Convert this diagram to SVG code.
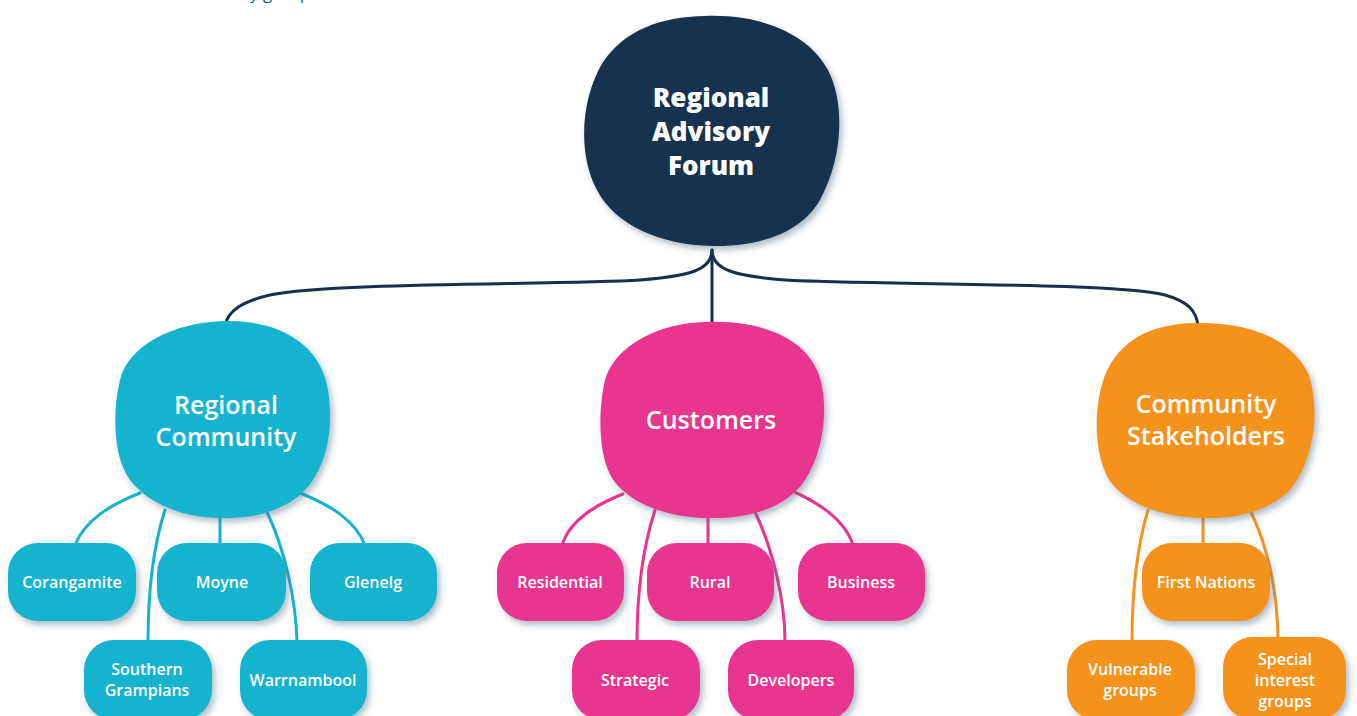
<svg xmlns="http://www.w3.org/2000/svg" width="1357" height="716" viewBox="0 0 1357 716">
<defs>
<filter id="sh" x="-20%" y="-20%" width="140%" height="140%">
<feDropShadow dx="3" dy="4" stdDeviation="3" flood-color="#4f6e86" flood-opacity="0.45"/>
</filter>
<style>
.t{font-family:"Open Sans","Liberation Sans",sans-serif;fill:#fff;text-anchor:middle}
.big{font-size:26px;font-weight:800}
.mid{font-size:25px;font-weight:600}
.sm{font-size:16px;font-weight:600}
.navy{fill:#17304f}
.cy{fill:#12b3cf}
.pk{fill:#e8348f}
.or{fill:#f5921f}
.lc{fill:none;stroke-width:3;stroke-linecap:round}
</style>
</defs>
<rect width="1357" height="716" fill="#fff"/>
<text x="250" y="-1" font-family="Open Sans, Liberation Sans, sans-serif" font-size="17" fill="#1d5a8c">y groups</text>

<g id="connectors">
<path class="lc" stroke="#17304f" stroke-width="3.5" d="M712 250 C712 270 690 276 640 280 C560 285 330 282 270 295 C240 302 228 312 225 325"/>
<path class="lc" stroke="#17304f" stroke-width="3.5" d="M712 250 L712 325"/>
<path class="lc" stroke="#17304f" stroke-width="3.5" d="M712 250 C712 270 735 276 785 280 C870 285 1110 282 1165 295 C1190 302 1196 312 1198 325"/>
<g stroke="#12b3cf">
<path class="lc" d="M140 493 C110 505 85 520 75 545"/>
<path class="lc" d="M165 510 C152 550 148 600 148 642"/>
<path class="lc" d="M220 515 L220 545"/>
<path class="lc" d="M267 512 C285 550 296 600 297 642"/>
<path class="lc" d="M300 493 C330 505 355 520 365 545"/>
</g>
<g stroke="#e8348f">
<path class="lc" d="M623 494 C595 505 570 520 562 545"/>
<path class="lc" d="M655 510 C642 550 637 600 637 642"/>
<path class="lc" d="M708 515 L708 545"/>
<path class="lc" d="M755 512 C773 550 785 600 785 642"/>
<path class="lc" d="M790 490 C820 503 845 520 853 545"/>
</g>
<g stroke="#f5921f">
<path class="lc" d="M1148 510 C1136 550 1132 600 1132 642"/>
<path class="lc" d="M1203 515 L1203 545"/>
<path class="lc" d="M1250 510 C1270 550 1278 600 1278 642"/>
</g>
</g>

<g id="node-forum">
<path class="navy" filter="url(#sh)" d="M705 16 C760 14 808 33 828 70 C846 105 842 160 820 200 C800 235 755 247 712 246 C660 245 615 225 597 190 C578 155 580 100 603 62 C625 30 660 17 705 16 Z"/>
<text class="t big" x="711" y="107">Regional</text>
<text class="t big" x="711" y="141">Advisory</text>
<text class="t big" x="711" y="175">Forum</text>
</g>

<g id="node-regional-community">
<path class="cy" filter="url(#sh)" d="M225 321 C278 320 318 343 327 385 C335 425 328 470 300 495 C275 515 245 519 220 518 C185 518 150 505 130 480 C112 455 113 410 120 380 C128 345 175 322 225 321 Z"/>
<text class="t mid" x="226" y="414">Regional</text>
<text class="t mid" x="226" y="446">Community</text>
</g>

<g id="node-customers">
<path class="pk" filter="url(#sh)" d="M705 322 C762 320 803 338 817 370 C830 400 825 450 805 480 C785 510 745 519 710 518 C670 518 630 505 612 478 C598 455 598 410 605 380 C615 345 660 323 705 322 Z"/>
<text class="t mid" x="711" y="429">Customers</text>
</g>

<g id="node-stakeholders">
<path class="or" filter="url(#sh)" d="M1195 323 C1248 322 1292 338 1309 375 C1320 410 1315 460 1290 490 C1268 512 1235 519 1205 518 C1165 518 1125 505 1108 478 C1093 450 1094 405 1105 375 C1120 340 1150 324 1195 323 Z"/>
<text class="t mid" x="1206" y="413">Community</text>
<text class="t mid" x="1206" y="445">Stakeholders</text>
</g>

<g id="node-corangamite"><rect class="cy" filter="url(#sh)" x="8" y="543" width="128" height="78" rx="30"/><text class="t sm" x="72" y="588">Corangamite</text></g>
<g id="node-moyne"><rect class="cy" filter="url(#sh)" x="157" y="543" width="129" height="78" rx="30"/><text class="t sm" x="222" y="588">Moyne</text></g>
<g id="node-glenelg"><rect class="cy" filter="url(#sh)" x="310" y="543" width="127" height="78" rx="30"/><text class="t sm" x="373" y="588">Glenelg</text></g>
<g id="node-southern-grampians"><rect class="cy" filter="url(#sh)" x="84" y="640" width="128" height="80" rx="30"/><text class="t sm" x="147" y="675">Southern</text><text class="t sm" x="147" y="696">Grampians</text></g>
<g id="node-warrnambool"><rect class="cy" filter="url(#sh)" x="240" y="640" width="127" height="80" rx="30"/><text class="t sm" x="303" y="686">Warrnambool</text></g>

<g id="node-residential"><rect class="pk" filter="url(#sh)" x="497" y="543" width="127" height="78" rx="30"/><text class="t sm" x="560" y="588">Residential</text></g>
<g id="node-rural"><rect class="pk" filter="url(#sh)" x="647" y="543" width="127" height="78" rx="30"/><text class="t sm" x="710" y="588">Rural</text></g>
<g id="node-business"><rect class="pk" filter="url(#sh)" x="798" y="543" width="127" height="78" rx="30"/><text class="t sm" x="861" y="588">Business</text></g>
<g id="node-strategic"><rect class="pk" filter="url(#sh)" x="572" y="640" width="128" height="80" rx="30"/><text class="t sm" x="635" y="686">Strategic</text></g>
<g id="node-developers"><rect class="pk" filter="url(#sh)" x="728" y="640" width="126" height="80" rx="30"/><text class="t sm" x="791" y="686">Developers</text></g>

<g id="node-first-nations"><rect class="or" filter="url(#sh)" x="1142" y="543" width="128" height="78" rx="30"/><text class="t sm" x="1206" y="588">First Nations</text></g>
<g id="node-vulnerable"><rect class="or" filter="url(#sh)" x="1067" y="640" width="128" height="80" rx="30"/><text class="t sm" x="1130" y="675">Vulnerable</text><text class="t sm" x="1130" y="696">groups</text></g>
<g id="node-special"><rect class="or" filter="url(#sh)" x="1223" y="637" width="123" height="83" rx="30"/><text class="t sm" x="1285" y="665">Special</text><text class="t sm" x="1285" y="686">interest</text><text class="t sm" x="1285" y="707">groups</text></g>
</svg>
